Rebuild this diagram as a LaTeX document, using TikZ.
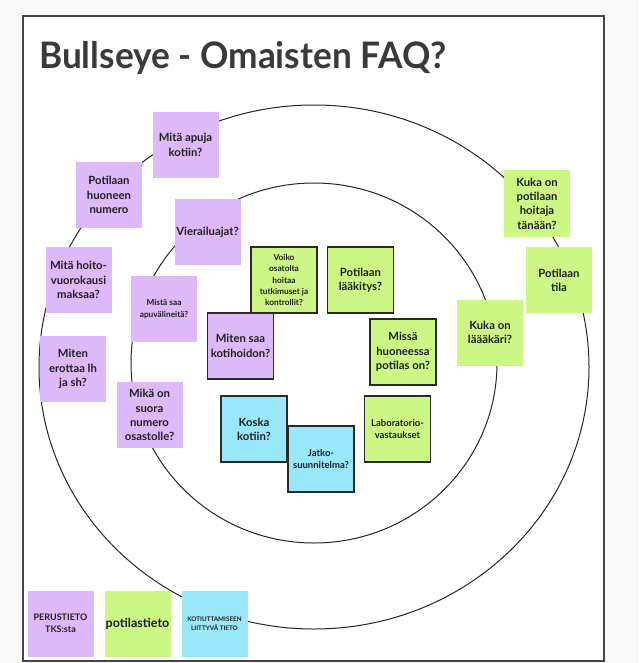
\documentclass[tikz,border=0pt]{standalone}
\usepackage{fontspec}
\setmainfont{Lato}
\definecolor{bgout}{HTML}{F8F8F8}
\definecolor{framec}{HTML}{454545}
\definecolor{purp}{HTML}{DDB9FA}
\definecolor{grn}{HTML}{CCF784}
\definecolor{blu}{HTML}{99E8FA}
\definecolor{txt}{HTML}{1E1E1E}
\definecolor{ttl}{HTML}{3A3A3A}
\definecolor{bd}{HTML}{2A2A2A}
\tikzset{
  note/.style={minimum width=66pt, minimum height=66pt, inner sep=1pt, align=center,
    text=txt, font=\bfseries\fontsize{11.3}{14.3}\selectfont},
  smallnote/.style={note, font=\bfseries\fontsize{8.3}{11.3}\selectfont},
  midnote/.style={note, font=\bfseries\fontsize{9.5}{12.3}\selectfont},
  pnote/.style={note, fill=purp},
  gnote/.style={note, fill=grn},
  bnote/.style={note, fill=blu},
  framed/.style={draw=bd, line width=1.3pt},
  ring/.style={draw=black!85, line width=1pt}
}
\begin{document}
\begin{tikzpicture}[x=1pt,y=-1pt]
\fill[bgout] (0,0) rectangle (639,663);
\useasboundingbox (0,0) rectangle (639,663);
\draw[framec, line width=1.6pt, fill=white] (23,16) rectangle (604,661);
\node[anchor=base west, text=ttl, font=\bfseries\fontsize{36.5}{40}\selectfont, inner sep=0pt, xscale=0.965, transform shape] (title) at (39,69) {Bullseye - Omaisten FAQ?};
% rings
\path[ring] (314,367) ellipse [x radius=275, y radius=262];
\path[ring] (314,363) ellipse [x radius=183, y radius=180];
% purple notes
\node[pnote] (n1) at (185.5,145) {Mitä apuja\\kotiin?};
\node[pnote] (n2) at (109,195) {Potilaan\\huoneen\\numero};
\node[pnote] (n3) at (207.5,232) {Vierailuajat?};
\node[pnote] (n4) at (78.5,280) {Mitä hoito-\\vuorokausi\\maksaa?};
\node[pnote, smallnote, fill=purp] (n5) at (164,309) {Mistä saa\\apuvälineitä?};
\node[pnote] (n6) at (73,369) {Miten\\erottaa lh\\ja sh?};
\node[pnote] (n7) at (149.5,415) {Mikä on\\suora\\numero\\osastolle?};
% inner notes
\node[gnote, smallnote, fill=grn, framed] (n8) at (284,280) {Voiko\\osatolta\\hoitaa\\tutkimuset ja\\kontrollit?};
\node[gnote, framed] (n9) at (360.5,280) {Potilaan\\lääkitys?};
\node[pnote, framed] (n10) at (240.5,346) {Miten saa\\kotihoidon?};
\node[gnote, framed] (n11) at (403,352) {Missä\\huoneessa\\potilas on?};
\node[bnote, framed] (n12) at (254,429) {Koska\\kotiin?};
\node[bnote, midnote, fill=blu, framed] (n13) at (321,459) {Jatko-\\suunnitelma?};
\node[gnote, midnote, fill=grn, framed] (n14) at (397.5,429) {Laboratorio-\\vastaukset};
% right notes
\node[gnote] (n15) at (537,203.5) {Kuka on\\potilaan\\hoitaja\\tänään?};
\node[gnote] (n16) at (559,280) {Potilaan\\tila};
\node[gnote] (n17) at (490,332.5) {Kuka on\\läääkäri?};
% legend
\node[pnote, font=\bfseries\fontsize{9}{12}\selectfont] (l1) at (60.5,623.5) {PERUSTIETO\\TKS:sta};
\node[gnote, font=\bfseries\fontsize{12.5}{15}\selectfont] (l2) at (137.5,623.5) {potilastieto};
\node[bnote, font=\bfseries\fontsize{6.3}{9}\selectfont] (l3) at (214.5,623.5) {KOTIUTTAMISEEN\\LIITTYVÄ TIETO};
\end{tikzpicture}
\end{document}
